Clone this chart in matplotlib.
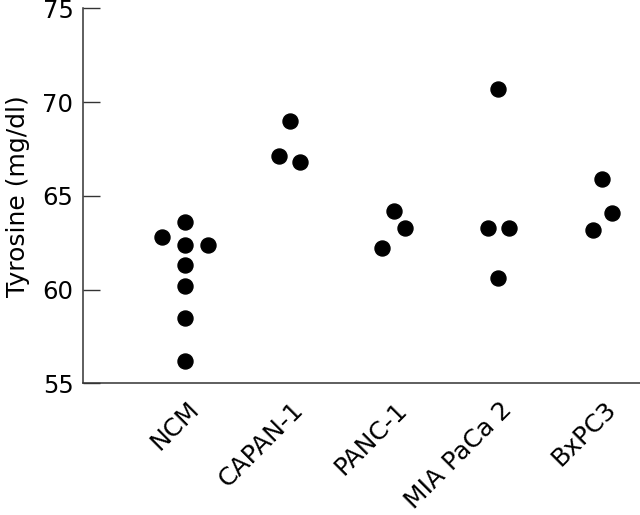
import numpy as np
import matplotlib
matplotlib.use("Agg")
import matplotlib.pyplot as plt
import matplotlib.transforms as mtransforms

# Tyrosine levels (mg/dl) per cell line
groups = ["NCM", "CAPAN-1", "PANC-1", "MIA PaCa 2", "BxPC3"]
ncm = [62.8, 63.6, 62.4, 62.4, 61.3, 60.2, 58.5, 56.2]
capan1 = [69.0, 67.1, 66.8]
panc1 = [64.2, 63.3, 62.2]
miapaca2 = [70.7, 63.3, 63.3, 60.6]
bxpc3 = [65.9, 64.1, 63.2]

# horizontal spread of the dots inside each group (category units)
ncm_dx = [-0.22, 0, 0, 0.22, 0, 0, 0, 0]
capan1_dx = [0, -0.10, 0.10]
panc1_dx = [0, 0.11, -0.11]
miapaca2_dx = [0, -0.10, 0.10, 0]
bxpc3_dx = [0, 0.09, -0.09]

values = [ncm, capan1, panc1, miapaca2, bxpc3]
offsets = [ncm_dx, capan1_dx, panc1_dx, miapaca2_dx, bxpc3_dx]

plt.rcParams['font.family'] = ['DejaVu Sans']

fig = plt.figure(figsize=(6.4, 5.15), dpi=100)
ax = fig.add_axes([0.130, 0.2557, 0.870, 0.7283])

for i, (vals, dx) in enumerate(zip(values, offsets)):
    xs = i + np.array(dx)
    ax.plot(xs, vals, 'o', color='black', markersize=10.8, clip_on=False)

ax.set_xlim(-0.98, 4.36)
ax.set_ylim(55, 75)
ax.set_yticks([55, 60, 65, 70, 75])

ax.spines['top'].set_visible(False)
ax.spines['right'].set_visible(False)
for s in ['left', 'bottom']:
    ax.spines[s].set_linewidth(1.1)
    ax.spines[s].set_color('#333333')

ax.tick_params(axis='y', direction='in', length=12, width=1.0,
               labelsize=17.5, pad=7, color='#333333')
ax.tick_params(axis='x', length=0, labelsize=18, pad=10)

ax.set_xticks(range(len(groups)))
ax.set_xticklabels(groups, rotation=45, ha='right', va='top',
                   rotation_mode='anchor')
shift = mtransforms.ScaledTranslation(1 / 72, 0, fig.dpi_scale_trans)
for lbl in ax.get_xticklabels():
    lbl.set_transform(lbl.get_transform() + shift)

ax.set_ylabel('Tyrosine (mg/dl)', fontsize=18, labelpad=9)

fig.savefig('out.png', dpi=100)
